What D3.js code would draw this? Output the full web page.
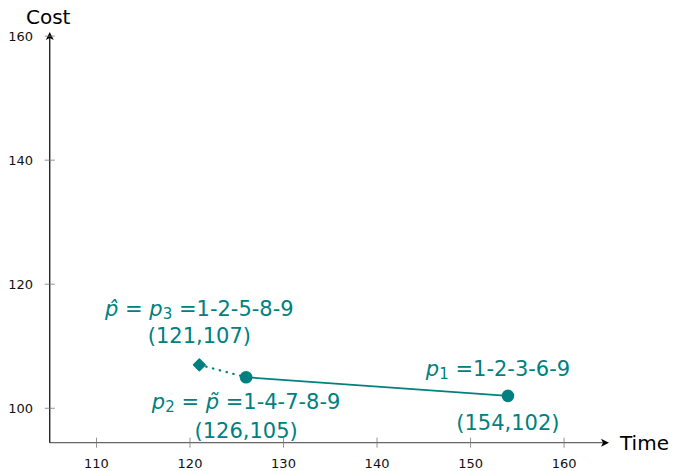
<!DOCTYPE html>
<html><head><meta charset="utf-8">
<script src="https://cdn.jsdelivr.net/npm/d3@7"></script>
<style>body{margin:0;background:#fff}svg{display:block}</style>
</head><body>
<svg id="c" width="674" height="471"></svg>
<script>
const xTicks = [110, 120, 130, 140, 150, 160];
const yTicks = [100, 120, 140, 160];
const times = [121, 126, 154];
const costs = [107, 105, 102];
const markers = ["diamond", "circle", "circle"];
const pathNames = ["1-2-5-8-9", "1-4-7-8-9", "1-2-3-6-9"];
const xDomain = [105, 164.7];
const yDomain = [94.45, 160.5];

const teal = "#008080";
const svg = d3.select("#c");
const x = d3.scaleLinear().domain(xDomain).range([49.75, 608]);
const y = d3.scaleLinear().domain(yDomain).range([442.7, 33]);
const font = "'DejaVu Sans', sans-serif";

// x axis
svg.append("line").attr("x1", x(105)).attr("x2", 604).attr("y1", y(yDomain[0])).attr("y2", y(yDomain[0]))
  .attr("stroke", "#666").attr("stroke-width", 1.2);
svg.append("path").attr("d", `M${601},${y(yDomain[0])-4} L${609},${y(yDomain[0])} L${601},${y(yDomain[0])+4} L${603},${y(yDomain[0])} Z`).attr("fill", "#000");
const xg = svg.append("g");
xg.selectAll("line").data(xTicks).join("line")
  .attr("x1", d => x(d)).attr("x2", d => x(d)).attr("y1", y(yDomain[0]) - 5).attr("y2", y(yDomain[0]) + 5)
  .attr("stroke", "#777").attr("stroke-width", 0.8);
xg.selectAll("text").data(xTicks).join("text")
  .attr("x", d => x(d)).attr("y", 468).attr("text-anchor", "middle")
  .attr("font-family", font).attr("font-size", 13).attr("fill", "#111").text(d => d);

// y axis
svg.append("line").attr("x1", x(105)).attr("x2", x(105)).attr("y1", y(yDomain[0])).attr("y2", 38)
  .attr("stroke", "#000").attr("stroke-width", 1.2);
svg.append("path").attr("d", `M${x(105)-4},${40} L${x(105)},${32} L${x(105)+4},${40} L${x(105)},${38} Z`).attr("fill", "#000");
const yg = svg.append("g");
yg.selectAll("line").data(yTicks).join("line")
  .attr("x1", x(105) - 5).attr("x2", x(105) + 5).attr("y1", d => y(d)).attr("y2", d => y(d))
  .attr("stroke", "#777").attr("stroke-width", 0.8);
yg.selectAll("text").data(yTicks).join("text")
  .attr("x", 33).attr("y", d => y(d) + 5).attr("text-anchor", "end")
  .attr("font-family", font).attr("font-size", 13).attr("fill", "#111").text(d => d);

svg.append("text").attr("x", 26).attr("y", 24).attr("font-family", font).attr("font-size", 20).attr("fill", "#000").text("Cost");
svg.append("text").attr("x", 620).attr("y", 450).attr("font-family", font).attr("font-size", 20).attr("fill", "#000").text("Time");

// lines
svg.append("line").attr("x1", x(times[0])).attr("y1", y(costs[0])).attr("x2", x(times[1])).attr("y2", y(costs[1]))
  .attr("stroke", teal).attr("stroke-width", 2.2).attr("stroke-dasharray", "0.5,6.5").attr("stroke-linecap", "round");
svg.append("line").attr("x1", x(times[1])).attr("y1", y(costs[1])).attr("x2", x(times[2])).attr("y2", y(costs[2]))
  .attr("stroke", teal).attr("stroke-width", 1.8);

// markers
times.forEach((t, i) => {
  if (markers[i] === "circle") {
    svg.append("circle").attr("cx", x(t)).attr("cy", y(costs[i])).attr("r", 6.3).attr("fill", teal);
  } else {
    svg.append("path").attr("d", d3.symbol(d3.symbolDiamond2, 85)()).attr("transform", `translate(${x(t)},${y(costs[i])})`)
      .attr("fill", teal).attr("stroke", teal).attr("stroke-width", 1.5).attr("stroke-linejoin", "round");
  }
});

// labels
function label(cx, cy, parts) {
  const t = svg.append("text").attr("x", cx).attr("y", cy).attr("text-anchor", "middle")
    .attr("font-family", font).attr("font-size", 21).attr("fill", teal);
  parts.forEach(p => {
    const s = t.append("tspan").text(p.t);
    if (p.i) s.attr("font-style", "italic");
    if (p.sub) s.attr("font-size", 15).attr("dy", 3);
    if (p.up) s.attr("dy", -3);
  });
}
label(x(times[0]), 316, [{t: "p̂", i: 1}, {t: " = "}, {t: "p", i: 1}, {t: "3", sub: 1}, {t: " =" + pathNames[0], up: 1}]);
label(x(times[0]), 343, [{t: `(${times[0]},${costs[0]})`}]);
label(x(times[1]), 409, [{t: "p", i: 1}, {t: "2", sub: 1}, {t: " = ", up: 1}, {t: "p̃", i: 1}, {t: " =" + pathNames[1]}]);
label(x(times[1]), 438, [{t: `(${times[1]},${costs[1]})`}]);
label(498, 376, [{t: "p", i: 1}, {t: "1", sub: 1}, {t: " =" + pathNames[2], up: 1}]);
label(x(times[2]), 430, [{t: `(${times[2]},${costs[2]})`}]);
</script>
</body></html>
